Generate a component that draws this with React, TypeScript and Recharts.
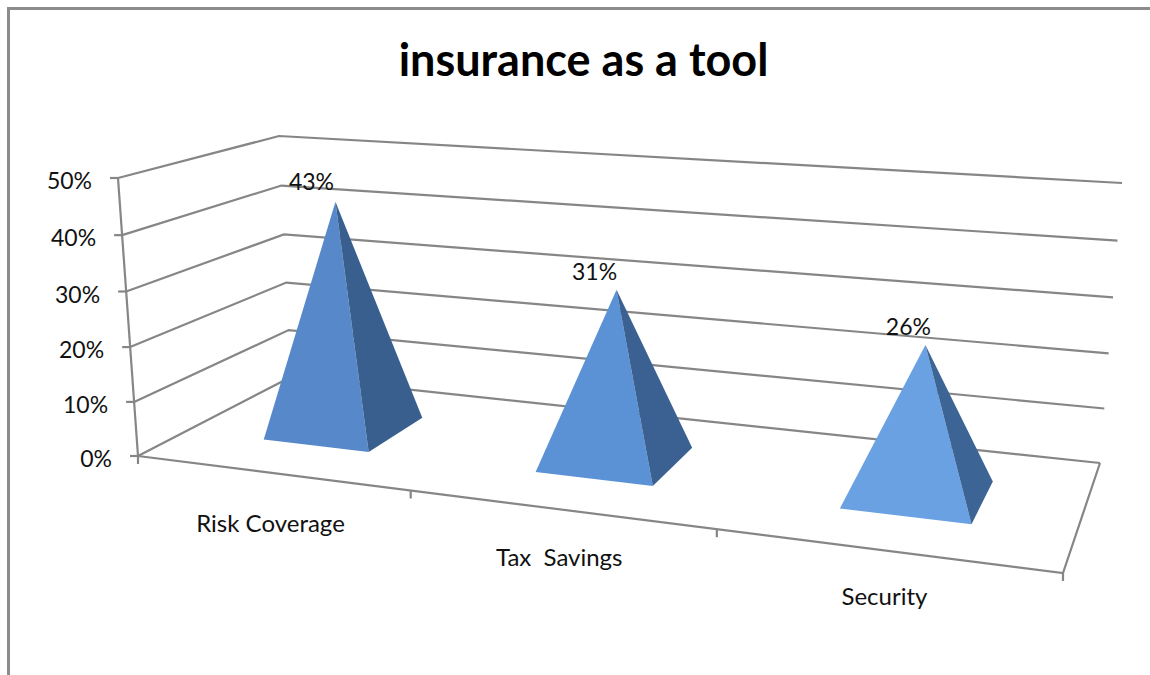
import { BarChart, Bar, XAxis, YAxis, CartesianGrid, LabelList } from 'recharts';

const categories = ['Risk Coverage', 'Tax  Savings', 'Security'];
const shares = [43, 31, 26];
const percentTicks = [0, 10, 20, 30, 40, 50];

const chartData = categories.map((name, i) => ({ name, share: shares[i] }));

const WIDTH = 1150;
const HEIGHT = 675;
// Plot rectangle handed to Recharts; the scales work in it, then everything is projected
const PLOT = { left: 138, top: 178, width: 925, height: 278 };
const AXIS_W = 60;
const AXIS_H = 30;

const LINE = '#868686';
const TEXT = '#111';
const FONT = 'Lato, Carlito, sans-serif';
const FRONT_FILLS = ['#5789ca', '#5b92d6', '#69a1e3'];
const SIDE_FILLS = ['#395f8e', '#3a6192', '#3c6495'];

// pyramid tips lean right of the base centre, by a different amount per category
const APEX_SHIFT = [0.012, 0.016, 0.006];
const LABEL_DX = [-24, -22, -17];
const LABEL_DY = [-12, -10, -10];

type Pt = [number, number];

// unit square -> quad, corners in order (0,0) (1,0) (1,1) (0,1)
function quadMap([p0, p1, p2, p3]: Pt[]) {
  const dx1 = p1[0] - p2[0];
  const dx2 = p3[0] - p2[0];
  const sx = p0[0] - p1[0] + p2[0] - p3[0];
  const dy1 = p1[1] - p2[1];
  const dy2 = p3[1] - p2[1];
  const sy = p0[1] - p1[1] + p2[1] - p3[1];
  const den = dx1 * dy2 - dx2 * dy1;
  const g = (sx * dy2 - dx2 * sy) / den;
  const h = (dx1 * sy - sx * dy1) / den;
  const a = p1[0] - p0[0] + g * p1[0];
  const b = p3[0] - p0[0] + h * p3[0];
  const d = p1[1] - p0[1] + g * p1[1];
  const e = p3[1] - p0[1] + h * p3[1];
  return (u: number, v: number): Pt => {
    const w = g * u + h * v + 1;
    return [(a * u + b * v + p0[0]) / w, (d * u + e * v + p0[1]) / w];
  };
}

const floorMap = quadMap([[138, 456], [1063, 573], [1100, 463], [291, 377]]);
const ceilMap = quadMap([[118, 178], [1096, 251], [1122, 183], [279, 136]]);

// u along the categories, v front to back, t from floor (0) to ceiling (1)
function project(u: number, v: number, t: number): Pt {
  const a = floorMap(u, v);
  const b = ceilMap(u, v);
  const k = t / (1 + 0.035 * (1 - t));
  return [a[0] + (b[0] - a[0]) * k, a[1] + (b[1] - a[1]) * k];
}

const toU = (x: number) => (x - PLOT.left) / PLOT.width;
const toT = (y: number) => (PLOT.top + PLOT.height - y) / PLOT.height;
const pts = (list: Pt[]) => list.map((p) => p.join(',')).join(' ');

// gridline wrapping the left and back walls; the 0% line also gives floor and value axis
function WallLine(props: any) {
  const t = toT(props.y1);
  const line = [project(0, 0, t), project(0, 1, t), project(1, 1, t)];
  return (
    <g key={props.key ?? props.y1}>
      <polyline points={pts(line)} fill="none" stroke={LINE} strokeWidth={2.2} />
      {Math.abs(t) < 0.001 && (
        <>
          <polyline points={pts([project(1, 1, 0), project(1, 0, 0), project(0, 0, 0)])} fill="none" stroke={LINE} strokeWidth={2.2} />
          <polyline points={pts([project(0, 0, 0), project(0, 0, 1)])} fill="none" stroke={LINE} strokeWidth={2.2} />
        </>
      )}
    </g>
  );
}

function ValueTick({ y, payload }: any) {
  const [px, py] = project(0, 0, toT(y));
  return (
    <g>
      <line x1={px - 8} y1={py} x2={px} y2={py} stroke={LINE} strokeWidth={2.2} />
      <text x={px - 26} y={py + 11} textAnchor="end" fontFamily={FONT} fontSize={23} fill={TEXT}>
        {payload.value}%
      </text>
    </g>
  );
}

function CategoryTick({ x, payload, index }: any) {
  const u = toU(x);
  const step = 1 / categories.length;
  const [px, py] = project(u, 0, 0);
  const marks = index === 0 ? [u - step / 2, u + step / 2] : [u + step / 2];
  return (
    <g>
      {marks.map((m) => {
        const [mx, my] = project(m, 0, 0);
        return <line key={m} x1={mx} y1={my} x2={mx} y2={my + 8} stroke={LINE} strokeWidth={2.2} />;
      })}
      <text x={px} y={py + 60 - 6 * u} textAnchor="middle" fontFamily={FONT} fontSize={24} fill={TEXT} style={{ whiteSpace: 'pre' }}>
        {payload.value}
      </text>
    </g>
  );
}

function Pyramid({ x, y, width, index }: any) {
  const u0 = toU(x);
  const u1 = toU(x + width);
  const apex = project((u0 + u1) / 2 + APEX_SHIFT[index], 0.5, toT(y));
  const frontL = project(u0, 0.295, 0);
  const frontR = project(u1, 0.295, 0);
  const backR = project(u1, 0.7, 0);
  return (
    <g>
      <polygon points={pts([frontL, frontR, apex])} fill={FRONT_FILLS[index]} />
      <polygon points={pts([frontR, backR, apex])} fill={SIDE_FILLS[index]} />
    </g>
  );
}

function ShareLabel({ x, y, width, value, index }: any) {
  const [ax, ay] = project(toU(x + width / 2) + APEX_SHIFT[index], 0.5, toT(y));
  return (
    <text x={ax + LABEL_DX[index]} y={ay + LABEL_DY[index]} textAnchor="middle" fontFamily={FONT} fontSize={23} fill={TEXT}>
      {value}%
    </text>
  );
}

export default function App() {
  return (
    <div style={{ position: 'absolute', left: 0, top: 0, width: WIDTH, height: HEIGHT, overflow: 'hidden', background: '#fff' }}>
      <div style={{ position: 'absolute', left: 7, top: 7, width: WIDTH, height: HEIGHT, borderLeft: '3px solid #8c8c8c', borderTop: '3px solid #8c8c8c' }} />
      <div style={{ position: 'absolute', left: 0, top: 0 }}>
        <BarChart
          width={WIDTH}
          height={HEIGHT}
          data={chartData}
          barCategoryGap="30%"
          margin={{
            left: PLOT.left - AXIS_W,
            top: PLOT.top,
            right: WIDTH - PLOT.left - PLOT.width,
            bottom: HEIGHT - PLOT.top - PLOT.height - AXIS_H,
          }}
        >
          <text x={583.5} y={76} textAnchor="middle" fontFamily={FONT} fontWeight={700} fontSize={45} fill="#000">
            insurance as a tool
          </text>
          <CartesianGrid vertical={false} horizontal={(p: any) => <WallLine {...p} />} />
          <XAxis dataKey="name" height={AXIS_H} axisLine={false} tickLine={false} interval={0} tick={<CategoryTick />} />
          <YAxis width={AXIS_W} domain={[0, 50]} ticks={percentTicks} axisLine={false} tickLine={false} tick={<ValueTick />} />
          <Bar dataKey="share" isAnimationActive={false} shape={<Pyramid />}>
            <LabelList dataKey="share" content={<ShareLabel />} />
          </Bar>
        </BarChart>
      </div>
    </div>
  );
}
